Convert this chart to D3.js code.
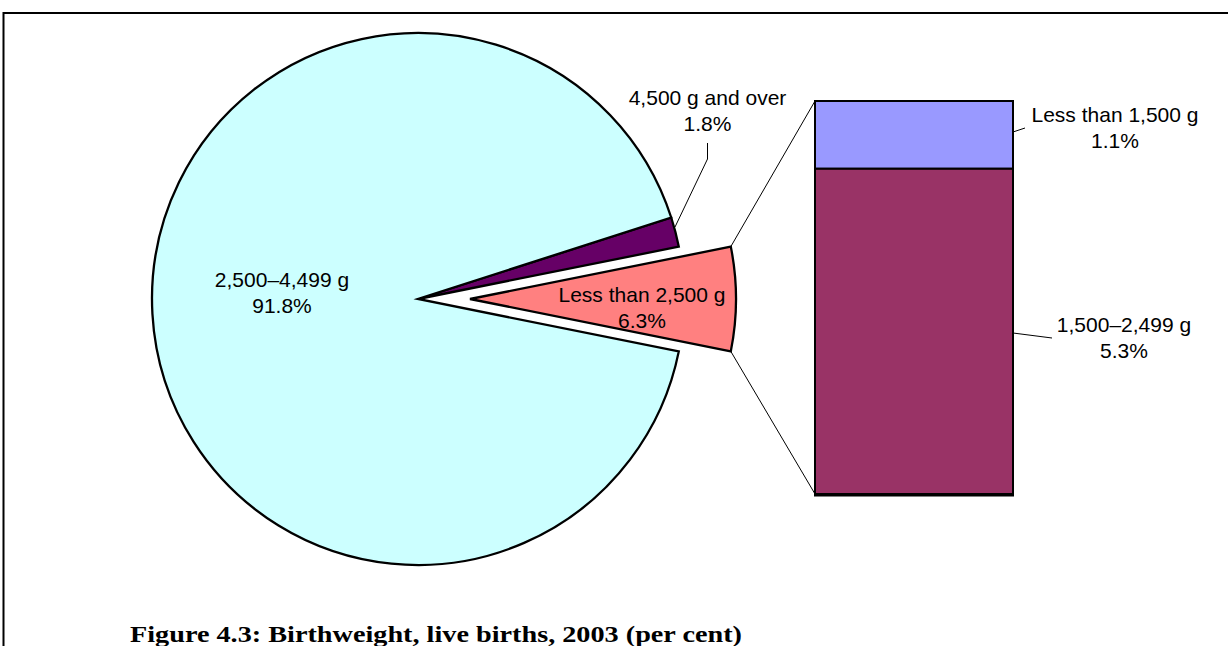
<!DOCTYPE html>
<html>
<head>
<meta charset="utf-8">
<script src="https://cdn.jsdelivr.net/npm/d3@7"></script>
<style>
  html, body { margin: 0; padding: 0; background: #fff; }
  svg { display: block; }
  .lbl { font-family: "Liberation Sans", Arial, sans-serif; font-size: 21px; fill: #000; }
</style>
</head>
<body>
<div id="chart"></div>
<script>
// main pie, clockwise from the purple slice
const pieNames  = ["4,500 g and over", "Less than 2,500 g", "2,500–4,499 g"]
const pieValues = [1.8, 6.3, 91.8]
const pieColors = ["#660066", "#FF8080", "#CCFFFF"]

// the bar that splits "Less than 2,500 g", bottom to top
const barNames  = ["1,500–2,499 g", "Less than 1,500 g"]
const barValues = [5.3, 1.1]
const barColors = ["#993366", "#9999FF"]

const W = 1228, H = 646
const cx = 418, cy = 299, R = 266, explode = 52

const svg = d3.select('#chart').append('svg')
    .attr('width', W)
    .attr('height', H)

// frame (top and left edges visible)
svg.append('path')
    .attr('d', `M3.5,${H + 5}V13H${W + 5}`)
    .attr('fill', 'none')
    .attr('stroke', '#000')
    .attr('stroke-width', 2)

const total = d3.sum(pieValues)
// centre the "other" slice on 3 o'clock
const start = Math.PI / 2 - 2 * Math.PI * (pieValues[0] + pieValues[1] / 2) / total

const pie = d3.pie().sort(null)
    .startAngle(start)
    .endAngle(start + 2 * Math.PI)
const arcs = pie(pieValues)
const arc = d3.arc().innerRadius(0).outerRadius(R)

const offset = (d, i) => {
    if (i !== 1) return [0, 0]
    const a = (d.startAngle + d.endAngle) / 2
    return [explode * Math.sin(a), -explode * Math.cos(a)]
}

svg.append('g')
    .attr('transform', `translate(${cx},${cy})`)
    .selectAll('path')
    .data(arcs)
    .enter().append('path')
    .attr('d', arc)
    .attr('transform', (d, i) => `translate(${offset(d, i)})`)
    .attr('fill', (d, i) => pieColors[i])
    .attr('stroke', '#000')
    .attr('stroke-width', 2.3)
    .attr('stroke-linejoin', 'miter')

// stacked bar
const barX = 815, barW = 198
const y = d3.scaleLinear().domain([0, d3.sum(barValues)]).range([494, 101])
const stacked = d3.cumsum(barValues)
const segs = barValues.map((v, i) => ({ v, y0: stacked[i] - v, y1: stacked[i], i }))

svg.append('g').selectAll('rect')
    .data(segs)
    .enter().append('rect')
    .attr('x', barX)
    .attr('y', d => y(d.y1))
    .attr('width', barW)
    .attr('height', d => y(d.y0) - y(d.y1))
    .attr('fill', d => barColors[d.i])
    .attr('stroke', '#000')
    .attr('stroke-width', 2)

svg.append('line')
    .attr('x1', barX - 1).attr('x2', barX + barW + 1)
    .attr('y1', y(0) + 1).attr('y2', y(0) + 1)
    .attr('stroke', '#000').attr('stroke-width', 3)

// connector lines from the exploded slice corners to the bar
const other = arcs[1]
const [ox, oy] = offset(other, 1)
const corner = a => [cx + ox + R * Math.sin(a), cy + oy - R * Math.cos(a)]
const c1 = corner(other.startAngle), c2 = corner(other.endAngle)
const conn = [[c1, [barX, y(d3.sum(barValues))]], [c2, [barX, y(0)]]]
svg.append('g').selectAll('line')
    .data(conn)
    .enter().append('line')
    .attr('x1', d => d[0][0]).attr('y1', d => d[0][1])
    .attr('x2', d => d[1][0]).attr('y2', d => d[1][1])
    .attr('stroke', '#000').attr('stroke-width', 1)

// leader lines
const leaders = [
    [[707.5, 143], [707.5, 159], [675, 227]],
    [[1013, 132], [1025, 128]],
    [[1013, 333], [1052, 338]]
]
svg.append('g').selectAll('path')
    .data(leaders)
    .enter().append('path')
    .attr('d', d3.line())
    .attr('fill', 'none')
    .attr('stroke', '#000')
    .attr('stroke-width', 1)

// labels
const labels = [
    { t: [pieNames[0], pieValues[0].toFixed(1) + '%'], x: 707.5, y: 105 },
    { t: [pieNames[1], pieValues[1].toFixed(1) + '%'], x: 642, y: 302 },
    { t: [pieNames[2], pieValues[2].toFixed(1) + '%'], x: 282, y: 287 },
    { t: [barNames[1], barValues[1].toFixed(1) + '%'], x: 1115, y: 122 },
    { t: [barNames[0], barValues[0].toFixed(1) + '%'], x: 1124, y: 332 }
]
const lg = svg.append('g')
labels.forEach(l => {
    const txt = lg.append('text')
        .attr('class', 'lbl')
        .attr('text-anchor', 'middle')
        .attr('x', l.x)
        .attr('y', l.y)
    txt.selectAll('tspan')
        .data(l.t)
        .enter().append('tspan')
        .attr('x', l.x)
        .attr('dy', (d, i) => i ? 26 : 0)
        .text(d => d)
})

// caption
svg.append('text')
    .attr('x', 130)
    .attr('y', 642)
    .attr('textLength', 612)
    .attr('lengthAdjust', 'spacingAndGlyphs')
    .style('font-family', '"Palatino Linotype", "Book Antiqua", Palatino, "Liberation Serif", serif')
    .style('font-weight', 'bold')
    .style('font-size', '23px')
    .text('Figure 4.3: Birthweight, live births, 2003 (per cent)')
</script>
</body>
</html>
